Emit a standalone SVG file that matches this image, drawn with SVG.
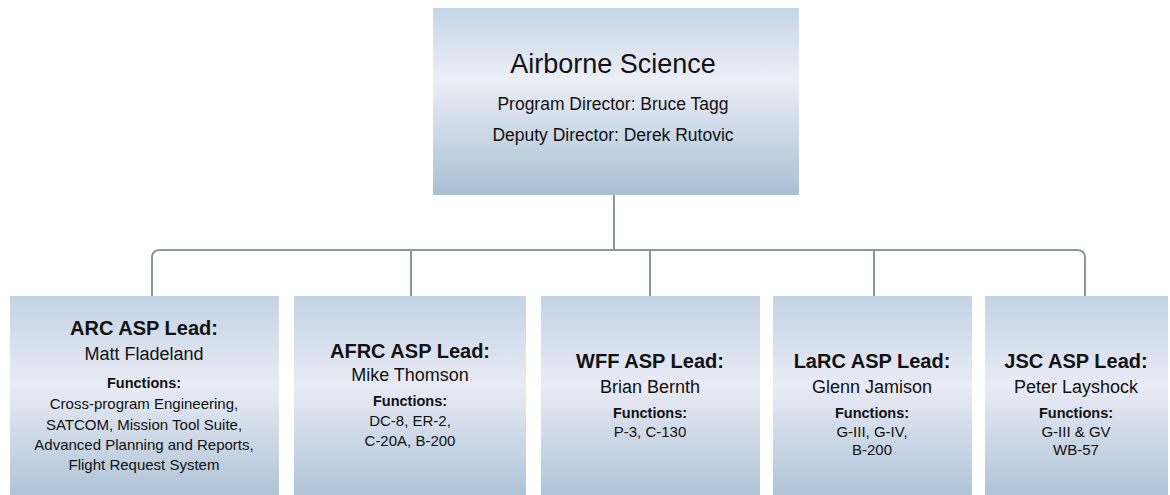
<svg xmlns="http://www.w3.org/2000/svg" width="1170" height="495" viewBox="0 0 1170 495">
<defs>
<linearGradient id="gTop" x1="0" y1="0" x2="0" y2="1">
<stop offset="0" stop-color="#c6d5e6"/>
<stop offset="0.38" stop-color="#eceef7"/>
<stop offset="1" stop-color="#a8c0d3"/>
</linearGradient>
<linearGradient id="gBox" x1="0" y1="0" x2="0" y2="1">
<stop offset="0" stop-color="#c3d3e4"/>
<stop offset="0.45" stop-color="#e9ebf5"/>
<stop offset="1" stop-color="#afc4d7"/>
</linearGradient>
<style>
.box{fill:url(#gBox);}
.top{fill:url(#gTop);}
.t{font-family:"Liberation Sans",Arial,sans-serif;fill:#111;text-anchor:middle;}
.h1{font-size:27px;}
.h2{font-size:17.5px;}
.ttl{font-size:20px;font-weight:bold;}
.nm{font-size:18px;}
.fh{font-size:14.5px;font-weight:bold;}
.fl{font-size:15px;}
.conn{fill:none;stroke:#8f9497;stroke-width:2;}
</style>
</defs>
<rect width="1170" height="495" fill="#ffffff"/>
<g id="connectors">
<path class="conn" d="M614,195 V250"/>
<path class="conn" d="M152,296 V258 Q152,250 160,250 H1077 Q1085,250 1085,258 V296"/>
<path class="conn" d="M411,250 V296"/>
<path class="conn" d="M650,250 V296"/>
<path class="conn" d="M874,250 V296"/>
</g>
<g id="airborne-science">
<rect class="top" x="433" y="8" width="366" height="187"/>
<text class="t h1" x="613" y="73">Airborne Science</text>
<text class="t h2" x="613" y="110">Program Director: Bruce Tagg</text>
<text class="t h2" x="613" y="141">Deputy Director: Derek Rutovic</text>
</g>
<g id="arc">
<rect class="box" x="10" y="296" width="269" height="199"/>
<text class="t ttl" x="144" y="335">ARC ASP Lead:</text>
<text class="t nm" x="144" y="360">Matt Fladeland</text>
<text class="t fh" x="144" y="388">Functions:</text>
<text class="t fl" x="144" y="409">Cross-program Engineering,</text>
<text class="t fl" x="144" y="430">SATCOM, Mission Tool Suite,</text>
<text class="t fl" x="144" y="450">Advanced Planning and Reports,</text>
<text class="t fl" x="144" y="470">Flight Request System</text>
</g>
<g id="afrc">
<rect class="box" x="294" y="296" width="232" height="199"/>
<text class="t ttl" x="410" y="358">AFRC ASP Lead:</text>
<text class="t nm" x="410" y="381">Mike Thomson</text>
<text class="t fh" x="410" y="406">Functions:</text>
<text class="t fl" x="410" y="426">DC-8, ER-2,</text>
<text class="t fl" x="410" y="446">C-20A, B-200</text>
</g>
<g id="wff">
<rect class="box" x="541" y="296" width="219" height="199"/>
<text class="t ttl" x="650" y="368">WFF ASP Lead:</text>
<text class="t nm" x="650" y="393">Brian Bernth</text>
<text class="t fh" x="650" y="418">Functions:</text>
<text class="t fl" x="650" y="437">P-3, C-130</text>
</g>
<g id="larc">
<rect class="box" x="773" y="296" width="199" height="199"/>
<text class="t ttl" x="872" y="368">LaRC ASP Lead:</text>
<text class="t nm" x="872" y="393">Glenn Jamison</text>
<text class="t fh" x="872" y="418">Functions:</text>
<text class="t fl" x="872" y="437">G-III, G-IV,</text>
<text class="t fl" x="872" y="455">B-200</text>
</g>
<g id="jsc">
<rect class="box" x="985" y="296" width="183" height="199"/>
<text class="t ttl" x="1076" y="368">JSC ASP Lead:</text>
<text class="t nm" x="1076" y="393">Peter Layshock</text>
<text class="t fh" x="1076" y="418">Functions:</text>
<text class="t fl" x="1076" y="437">G-III &amp; GV</text>
<text class="t fl" x="1076" y="455">WB-57</text>
</g>
</svg>
